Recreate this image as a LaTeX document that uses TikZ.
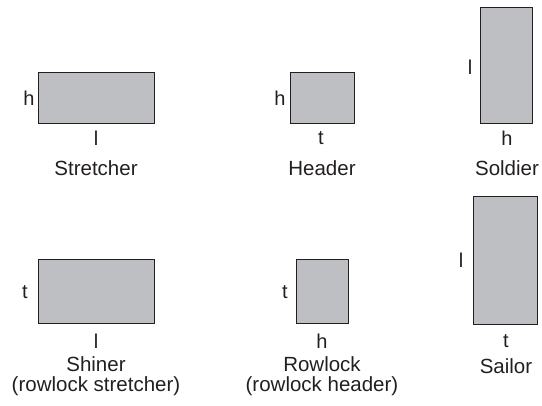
\documentclass[tikz,border=0pt]{standalone}
\usepackage{fontspec}
\setmainfont{Liberation Sans}
\definecolor{brickfill}{RGB}{190,191,195}
\definecolor{brickline}{RGB}{35,31,32}
\begin{document}
\begin{tikzpicture}[x=1pt,y=-1pt,
  brick/.style={draw=brickline,fill=brickfill,line width=1pt},
  lbl/.style={font=\fontsize{20}{22}\selectfont,inner sep=0pt,text=brickline},
  captxt/.style={font=\fontsize{20.5}{20.5}\selectfont,inner sep=0pt,align=center,text=brickline}]
\useasboundingbox (0,0) rectangle (542,406);
% Stretcher
\draw[brick] (38,73) rectangle (154,124);
\node[lbl] (s1h) at (29,98) {h};
\node[lbl] (s1l) at (96,138) {l};
\node[captxt] (s1c) at (96,168) {Stretcher};
% Header
\draw[brick] (290,73) rectangle (354,124);
\node[lbl] (s2h) at (280,98) {h};
\node[lbl] (s2t) at (321,138) {t};
\node[captxt] (s2c) at (322,168) {Header};
% Soldier
\draw[brick] (480,8) rectangle (532,124);
\node[lbl] (s3l) at (470,67) {l};
\node[lbl] (s3h) at (507,138) {h};
\node[captxt] (s3c) at (507,168) {Soldier};
% Shiner
\draw[brick] (38,260) rectangle (154,324);
\node[lbl] (s4t) at (25,292) {t};
\node[lbl] (s4l) at (96,341) {l};
\node[captxt] (s4c) at (96,376) {Shiner\\(rowlock stretcher)};
% Rowlock
\draw[brick] (296,260) rectangle (348,324);
\node[lbl] (s5t) at (285,292) {t};
\node[lbl] (s5h) at (322,341) {h};
\node[captxt] (s5c) at (322,376) {Rowlock\\(rowlock header)};
% Sailor
\draw[brick] (473,197) rectangle (537,325);
\node[lbl] (s6l) at (461,260) {l};
\node[lbl] (s6t) at (506,341) {t};
\node[captxt] (s6c) at (506,366) {Sailor};
\end{tikzpicture}
\end{document}
